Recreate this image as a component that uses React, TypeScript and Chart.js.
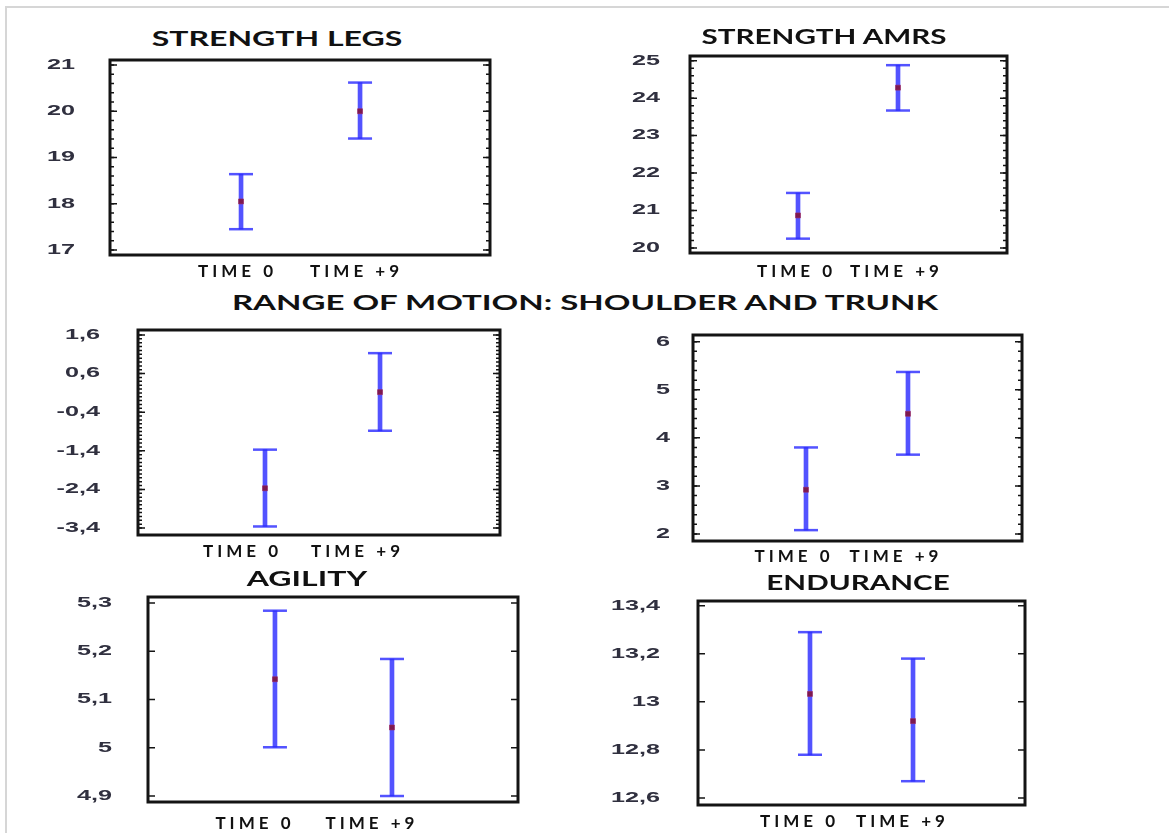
import React, { useEffect, useRef } from "react";
import { Chart, registerables } from "chart.js";

Chart.register(...registerables);

// ---------- DATA ----------
const categories = ["TIME 0", "TIME +9"];

const legsMean = [18.05, 20.0];
const legsLow = [17.45, 19.41];
const legsHigh = [18.64, 20.62];
const legsTicks = [17, 18, 19, 20, 21];
const legsTickLabels = ["17", "18", "19", "20", "21"];

const armsMean = [20.87, 24.28];
const armsLow = [20.25, 23.67];
const armsHigh = [21.47, 24.88];
const armsTicks = [20, 21, 22, 23, 24, 25];
const armsTickLabels = ["20", "21", "22", "23", "24", "25"];

const romAMean = [-2.37, 0.12];
const romALow = [-3.36, -0.88];
const romAHigh = [-1.37, 1.13];
const romATicks = [-3.4, -2.4, -1.4, -0.4, 0.6, 1.6];
const romATickLabels = ["-3,4", "-2,4", "-1,4", "-0,4", "0,6", "1,6"];

const romBMean = [2.92, 4.5];
const romBLow = [2.08, 3.65];
const romBHigh = [3.8, 5.37];
const romBTicks = [2, 3, 4, 5, 6];
const romBTickLabels = ["2", "3", "4", "5", "6"];

const agilityMean = [5.142, 5.042];
const agilityLow = [5.001, 4.9];
const agilityHigh = [5.284, 5.184];
const agilityTicks = [4.9, 5.0, 5.1, 5.2, 5.3];
const agilityTickLabels = ["4,9", "5", "5,1", "5,2", "5,3"];

const enduranceMean = [13.033, 12.92];
const enduranceLow = [12.78, 12.67];
const enduranceHigh = [13.29, 13.18];
const enduranceTicks = [12.6, 12.8, 13.0, 13.2, 13.4];
const enduranceTickLabels = ["12,6", "12,8", "13", "13,2", "13,4"];

const titleLegs = "STRENGTH LEGS";
const titleArms = "STRENGTH AMRS";
const titleRom = "RANGE OF MOTION: SHOULDER AND TRUNK";
const titleAgility = "AGILITY";
const titleEndurance = "ENDURANCE";

// ---------- LAYOUT (positions / styles only) ----------
type PanelSpec = {
  mean: number[];
  low: number[];
  high: number[];
  ticks: number[];
  tickLabels: string[];
  minor: number;
  frame: { l: number; r: number; t: number; b: number };
  yMin: number;
  yMax: number;
  xMin: number;
  xMax: number;
  labelRight: number;
  labelY: number;
  labelOffset: number;
};

const panels: PanelSpec[] = [
  {
    mean: legsMean, low: legsLow, high: legsHigh, ticks: legsTicks, tickLabels: legsTickLabels,
    minor: 0.2, frame: { l: 110, r: 490, t: 60, b: 255 }, yMin: 16.892, yMax: 21.108,
    xMin: -1.101, xMax: 2.092, labelRight: 75, labelY: 272, labelOffset: -5.5,
  },
  {
    mean: armsMean, low: armsLow, high: armsHigh, ticks: armsTicks, tickLabels: armsTickLabels,
    minor: 0.2, frame: { l: 690, r: 1007, t: 56, b: 253 }, yMin: 19.867, yMax: 25.125,
    xMin: -1.08, xMax: 2.09, labelRight: 660, labelY: 272, labelOffset: -3.5,
  },
  {
    mean: romAMean, low: romALow, high: romAHigh, ticks: romATicks, tickLabels: romATickLabels,
    minor: 0.1, frame: { l: 138, r: 500, t: 330, b: 535 }, yMin: -3.581, yMax: 1.7295,
    xMin: -1.104, xMax: 2.043, labelRight: 100, labelY: 552, labelOffset: -24.5,
  },
  {
    mean: romBMean, low: romBLow, high: romBHigh, ticks: romBTicks, tickLabels: romBTickLabels,
    minor: 0.2, frame: { l: 693, r: 1022, t: 335, b: 541 }, yMin: 1.854, yMax: 6.139,
    xMin: -1.108, xMax: 2.118, labelRight: 670, labelY: 557, labelOffset: -14,
  },
  {
    mean: agilityMean, low: agilityLow, high: agilityHigh, ticks: agilityTicks, tickLabels: agilityTickLabels,
    minor: 0, frame: { l: 148, r: 518, t: 597, b: 802 }, yMin: 4.8876, yMax: 5.3124,
    xMin: -1.085, xMax: 2.077, labelRight: 112, labelY: 824, labelOffset: -22,
  },
  {
    mean: enduranceMean, low: enduranceLow, high: enduranceHigh, ticks: enduranceTicks, tickLabels: enduranceTickLabels,
    minor: 0, frame: { l: 698, r: 1025, t: 601, b: 805 }, yMin: 12.571, yMax: 13.4196,
    xMin: -1.087, xMax: 2.087, labelRight: 660, labelY: 822, labelOffset: -12.5,
  },
];

const titles = [
  { text: titleLegs, x: 277, y: 38, sx: 1.6 },
  { text: titleArms, x: 824, y: 36, sx: 1.48 },
  { text: titleRom, x: 585, y: 302, sx: 1.65 },
  { text: titleAgility, x: 307, y: 578, sx: 1.6 },
  { text: titleEndurance, x: 858, y: 582, sx: 1.48 },
];

const PAD_LEFT = 110;
const PAD_RIGHT = 10;
const PAD_TOP = 10;
const PAD_BOTTOM = 35;
const X_FONT = 17;
const X_SPACING = 4;
const Y_STRETCH = 1.8;

const framePlugin = {
  id: "frame",
  afterDraw(chart: any, _args: any, opts: any) {
    const { ctx } = chart;
    const { left, right, top, bottom } = chart.chartArea;
    const y = chart.scales.y;
    ctx.save();
    ctx.strokeStyle = "#141414";
    ctx.lineWidth = 1.5;
    const tick = (v: number, len: number) => {
      const py = y.getPixelForValue(v);
      ctx.beginPath();
      ctx.moveTo(left, py);
      ctx.lineTo(left + len, py);
      ctx.moveTo(right, py);
      ctx.lineTo(right - len, py);
      ctx.stroke();
    };
    const majors: number[] = opts.majors || [];
    majors.forEach((v) => tick(v, 7));
    if (opts.minor) {
      const lo = majors[0];
      const hi = majors[majors.length - 1];
      const n = Math.round((hi - lo) / opts.minor);
      for (let i = 0; i <= n; i++) tick(lo + i * opts.minor, 4);
    }
    ctx.lineWidth = 3;
    ctx.strokeRect(left, top, right - left, bottom - top);
    ctx.restore();
  },
};

function clearPadding(s: any) {
  s.paddingTop = 0;
  s.paddingBottom = 0;
  s.paddingLeft = 0;
  s.paddingRight = 0;
}

function Panel({ spec }: { spec: PanelSpec }) {
  const ref = useRef<HTMLCanvasElement>(null);
  const { l, r, t, b } = spec.frame;
  const w = r - l + PAD_LEFT + PAD_RIGHT;
  const h = b - t + PAD_TOP + PAD_BOTTOM;
  const yPad = l - spec.labelRight;

  useEffect(() => {
    if (!ref.current) return;
    const blue = "rgba(45,45,255,0.82)";
    const chart = new Chart(ref.current, {
      type: "bar",
      data: {
        datasets: [
          {
            type: "scatter",
            order: 0,
            data: categories.map((_, i) => ({ x: i, y: spec.mean[i] })),
            pointStyle: "rect",
            pointRadius: 3.5,
            pointBackgroundColor: "#7c1a50",
            pointBorderColor: "rgba(160,40,90,0.6)",
            pointBorderWidth: 1,
          } as any,
          {
            type: "scatter",
            order: 1,
            data: [
              ...categories.map((_, i) => ({ x: i, y: spec.low[i] })),
              ...categories.map((_, i) => ({ x: i, y: spec.high[i] })),
            ],
            pointStyle: "line",
            pointRadius: 12,
            pointBorderColor: blue,
            pointBackgroundColor: blue,
            pointBorderWidth: 2.5,
          } as any,
          {
            type: "bar",
            order: 2,
            data: categories.map((_, i) => ({ x: i, y: [spec.low[i], spec.high[i]] })),
            backgroundColor: blue,
            borderWidth: 0,
            barThickness: 4,
          } as any,
        ],
      },
      options: {
        animation: false,
        responsive: false,
        maintainAspectRatio: false,
        devicePixelRatio: 1,
        events: [],
        layout: { autoPadding: false, padding: { left: 0, right: PAD_RIGHT, top: PAD_TOP, bottom: 0 } },
        plugins: {
          legend: { display: false },
          tooltip: { enabled: false },
          title: { display: false },
          frame: { majors: spec.ticks, minor: spec.minor },
        } as any,
        scales: {
          x: {
            type: "linear",
            offset: false,
            min: spec.xMin,
            max: spec.xMax,
            grid: { display: false, drawTicks: false, offset: false },
            border: { display: false },
            afterBuildTicks: (s: any) => {
              s.ticks = categories.map((_, i) => ({ value: i }));
            },
            afterFit: (s: any) => {
              s.height = PAD_BOTTOM;
              clearPadding(s);
              if (!s.__patched) {
                s.__patched = true;
                const orig = s.drawLabels.bind(s);
                s.drawLabels = (ca: any) => {
                  const ctx = s.ctx;
                  ctx.save();
                  (ctx as any).letterSpacing = X_SPACING + "px";
                  orig(ca);
                  ctx.restore();
                };
              }
            },
            ticks: {
              autoSkip: false,
              maxRotation: 0,
              minRotation: 0,
              padding: spec.labelY - b - (X_FONT * 1.2) / 2,
              labelOffset: spec.labelOffset + X_SPACING / 2,
              color: "#111111",
              font: { family: "Lato", weight: "bold", size: X_FONT },
              callback: (v: any) => categories[Math.round(Number(v))] ?? "",
            },
          },
          y: {
            type: "linear",
            min: spec.yMin,
            max: spec.yMax,
            grid: { display: false, drawTicks: false },
            border: { display: false },
            afterBuildTicks: (s: any) => {
              s.ticks = spec.ticks.map((v) => ({ value: v }));
            },
            afterFit: (s: any) => {
              s.width = PAD_LEFT;
              clearPadding(s);
              if (!s.__patched) {
                s.__patched = true;
                const orig = s.drawLabels.bind(s);
                s.drawLabels = (ca: any) => {
                  const ctx = s.ctx;
                  const ax = s.right - yPad;
                  ctx.save();
                  ctx.translate(ax, 0);
                  ctx.scale(Y_STRETCH, 1);
                  ctx.translate(-ax, 0);
                  orig(ca);
                  ctx.restore();
                };
              }
            },
            ticks: {
              autoSkip: false,
              padding: yPad,
              color: "#30303f",
              font: { family: "Liberation Sans", weight: "bold", size: 14 },
              callback: (v: any) => {
                const i = spec.ticks.findIndex((tv) => Math.abs(tv - Number(v)) < 1e-6);
                return i >= 0 ? spec.tickLabels[i] : "";
              },
            },
          },
        },
      },
      plugins: [framePlugin as any],
    });
    return () => chart.destroy();
  }, []);

  return (
    <canvas
      ref={ref}
      width={w}
      height={h}
      style={{ position: "absolute", left: l - PAD_LEFT, top: t - PAD_TOP, width: w, height: h }}
    />
  );
}

export default function App() {
  return (
    <div
      style={{
        position: "absolute",
        left: 0,
        top: 0,
        width: 1169,
        height: 833,
        background: "#ffffff",
        overflow: "hidden",
      }}
    >
      <div
        style={{
          position: "absolute",
          left: 5,
          top: 6,
          width: 1164,
          height: 827,
          borderLeft: "2px solid #d6d6d6",
          borderTop: "2px solid #d6d6d6",
        }}
      />
      {panels.map((p, i) => (
        <Panel key={i} spec={p} />
      ))}
      {titles.map((tt, i) => (
        <div
          key={"t" + i}
          style={{
            position: "absolute",
            left: tt.x,
            top: tt.y,
            transform: `translate(-50%, -50%) scaleX(${tt.sx})`,
            font: "bold 20px Lato",
            color: "#111111",
            whiteSpace: "nowrap",
            lineHeight: "24px",
          }}
        >
          {tt.text}
        </div>
      ))}
    </div>
  );
}
